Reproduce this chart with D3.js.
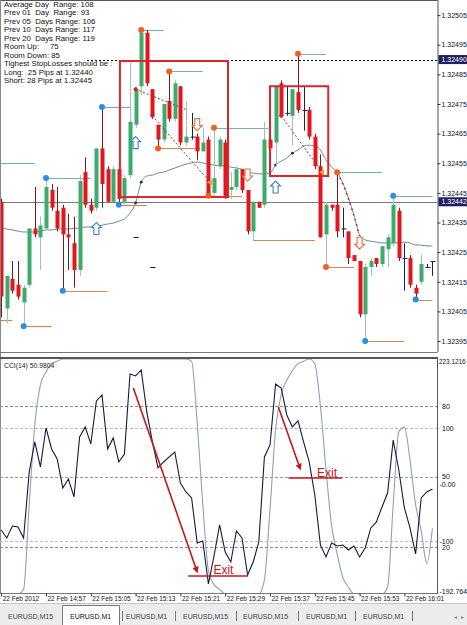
<!DOCTYPE html>
<html>
<head>
<meta charset="utf-8">
<script src="https://cdn.jsdelivr.net/npm/d3@7"></script>
<style>
  body { margin: 0; background: #fff; }
  svg { display: block; font-family: "Liberation Sans", Arial, sans-serif; }
</style>
</head>
<body>
<svg id="chart" width="467" height="625"></svg>
<script>
// EURUSD M1, 22 Feb 2012, one bar per minute starting 14:49
const opens  = [1.32442,1.32406,1.32416,1.32414,1.32408,1.32414,1.32433,1.32430,1.32433,1.32446,1.32439,1.32440,1.32431,1.32428,1.32419,1.32452,1.32441,1.32440,1.32460,1.32453,1.32442,1.32453,1.32442,1.32451,1.32468,1.32481,1.32499,1.32480,1.32468,1.32463,1.32476,1.32470,1.32481,1.32462,1.32464,1.32464,1.32459,1.32463,1.32445,1.32454,1.32462,1.32446,1.32447,1.32453,1.32446,1.32432,1.32442,1.32441,1.32463,1.32462,1.32482,1.32472,1.32471,1.32479,1.32473,1.32473,1.32464,1.32454,1.32431,1.32441,1.32441,1.32433,1.32432,1.32424,1.32422,1.32404,1.32420,1.32423,1.32421,1.32426,1.32428,1.32439,1.32423,1.32423,1.32413,1.32415,1.32420,1.32422];
const highs  = [1.32443,1.32417,1.32422,1.32422,1.32414,1.32433,1.32447,1.32437,1.32450,1.32448,1.32447,1.32441,1.32438,1.32437,1.32451,1.32457,1.32443,1.32460,1.32474,1.32454,1.32454,1.32454,1.32451,1.32489,1.32481,1.32500,1.32500,1.32480,1.32468,1.32475,1.32486,1.32483,1.32481,1.32476,1.32472,1.32465,1.32467,1.32464,1.32467,1.32464,1.32463,1.32452,1.32454,1.32453,1.32446,1.32442,1.32442,1.32469,1.32464,1.32481,1.32483,1.32481,1.32480,1.32492,1.32481,1.32474,1.32465,1.32458,1.32442,1.32441,1.32452,1.32440,1.32432,1.32424,1.32422,1.32421,1.32423,1.32423,1.32427,1.32431,1.32444,1.32440,1.32428,1.32424,1.32414,1.32424,1.32421,1.32422];
const lows   = [1.32403,1.32401,1.32411,1.32409,1.32400,1.32413,1.32430,1.32419,1.32433,1.32439,1.32432,1.32412,1.32419,1.32413,1.32417,1.32440,1.32438,1.32439,1.32440,1.32442,1.32442,1.32441,1.32441,1.32450,1.32467,1.32478,1.32481,1.32470,1.32460,1.32462,1.32469,1.32469,1.32461,1.32461,1.32463,1.32456,1.32459,1.32444,1.32444,1.32453,1.32443,1.32443,1.32446,1.32445,1.32431,1.32429,1.32440,1.32440,1.32460,1.32454,1.32471,1.32471,1.32461,1.32472,1.32466,1.32463,1.32453,1.32430,1.32420,1.32439,1.32430,1.32430,1.32421,1.32422,1.32403,1.32395,1.32417,1.32420,1.32420,1.32420,1.32427,1.32422,1.32412,1.32413,1.32409,1.32414,1.32420,1.32417];
const closes = [1.32410,1.32417,1.32412,1.32410,1.32413,1.32433,1.32431,1.32434,1.32447,1.32440,1.32433,1.32431,1.32430,1.32419,1.32449,1.32441,1.32439,1.32460,1.32448,1.32442,1.32453,1.32443,1.32450,1.32469,1.32480,1.32499,1.32482,1.32471,1.32463,1.32475,1.32470,1.32482,1.32462,1.32464,1.32464,1.32459,1.32462,1.32444,1.32450,1.32463,1.32444,1.32447,1.32453,1.32446,1.32432,1.32442,1.32440,1.32463,1.32460,1.32481,1.32471,1.32472,1.32480,1.32473,1.32473,1.32464,1.32454,1.32430,1.32441,1.32440,1.32432,1.32433,1.32423,1.32422,1.32404,1.32420,1.32422,1.32421,1.32427,1.32430,1.32441,1.32423,1.32423,1.32414,1.32411,1.32421,1.32420,1.32422];
const movingAvg = [1.324331,1.324328,1.324325,1.324321,1.324318,1.324318,1.324318,1.324321,1.324325,1.324325,1.324328,1.324328,1.324328,1.324331,1.324331,1.324335,1.324335,1.324338,1.324341,1.324345,1.324348,1.324355,1.324362,1.324382,1.324416,1.324486,1.324507,1.324510,1.324517,1.324520,1.324527,1.324534,1.324541,1.324547,1.324551,1.324554,1.324551,1.324547,1.324544,1.324541,1.324541,1.324537,1.324534,1.324530,1.324520,1.324517,1.324514,1.324514,1.324517,1.324544,1.324557,1.324568,1.324584,1.324595,1.324608,1.324611,1.324608,1.324595,1.324561,1.324537,1.324520,1.324483,1.324433,1.324375,1.324308,1.324291,1.324287,1.324284,1.324281,1.324281,1.324281,1.324281,1.324284,1.324281,1.324274,1.324274,1.324271,1.324271];
const maDots = [24, 25, 49, 52];

const cci = [-80.4,-94.5,-73.3,-75.0,-94.5,22.3,75.4,31.2,100.2,63.0,45.3,-6.0,9.9,-21.9,84.3,102.0,71.9,148.0,158.6,63.0,82.5,40.0,54.2,195.8,192.2,202.8,128.5,75.4,29.4,40.0,48.9,57.7,2.8,-13.1,-23.7,-103.4,-99.8,-175.9,-126.4,-71.5,-119.3,-137.0,-82.1,-94.5,-160.0,-137.0,-101.6,48.9,70.1,178.1,171.0,123.2,102.0,112.6,75.4,40.0,-18.4,-106.9,-128.1,-103.4,-108.7,-106.9,-115.8,-108.7,-128.1,-112.2,-76.8,-66.2,-39.6,-14.9,78.9,25.8,-41.4,-76.8,-122.8,-23.7,-13.1,-7.8];
const stoch = [0,0,0,0,2,38,72,89,94.5,98,99,100,100,100,100,100,100,100,100,100,100,100,100,100,100,100,100,100,100,100,100,100,100,100,99,73,38,10,4,2,0,0,0,0,0,0,0,6,36,70,85,91,95,98,99,100,98,80,53,29,17,7,3,0,0,0,0,0,0,3,38,69,71,57,38,27,13,28];

const priceTicks = [1.32395,1.32405,1.32415,1.32425,1.32435,1.32445,1.32455,1.32465,1.32475,1.32485,1.32495,1.32505];
const markedPrices = [1.32490, 1.32442];
const tickBars = [0, 8, 16, 24, 32, 40, 48, 56, 64, 72];
const tickLabels = ['22 Feb 2012','22 Feb 14:57','22 Feb 15:05','22 Feb 15:13','22 Feb 15:21','22 Feb 15:29','22 Feb 15:37','22 Feb 15:45','22 Feb 15:53','22 Feb 16:01'];

const infoLines = ['Average Day  Range: 108','Prev 01  Day  Range: 93','Prev 05  Days Range: 106','Prev 10  Days Range: 117','Prev 20  Days Range: 119','Room Up:     75','Room Down: 85','Tighest StopLosses should be :','Long:  25 Pips at 1.32440','Short: 28 Pips at 1.32445'];

// swing levels: start bar, end bar, price, side, dot colour
const levels = [
  {from: -0.3, to: 6, price: 1.32455, side: 'hi', dot: null},
  {from: -0.3, to: 2, price: 1.32402, side: 'lo', dot: null},
  {from: 4, to: 9, price: 1.32400, side: 'lo', dot: 'blue'},
  {from: 8, to: 16, price: 1.32450, side: 'hi', dot: 'blue'},
  {from: 11, to: 19, price: 1.32412, side: 'lo', dot: 'blue'},
  {from: 18, to: 23, price: 1.32474, side: 'hi', dot: 'blue'},
  {from: 21, to: 26, price: 1.32441, side: 'lo', dot: 'blue'},
  {from: 25, to: 29, price: 1.32500, side: 'hi', dot: 'orange'},
  {from: 28, to: 35.5, price: 1.32460, side: 'lo', dot: 'orange'},
  {from: 30, to: 36, price: 1.32486, side: 'hi', dot: 'orange'},
  {from: 37, to: 43, price: 1.32444, side: 'lo', dot: 'orange'},
  {from: 38, to: 47.7, price: 1.32467, side: 'hi', dot: 'orange'},
  {from: 45, to: 56, price: 1.32429, side: 'lo', dot: null},
  {from: 53, to: 58, price: 1.32492, side: 'hi', dot: 'orange'},
  {from: 58, to: 63, price: 1.32420, side: 'lo', dot: 'orange'},
  {from: 60, to: 68, price: 1.32452, side: 'hi', dot: 'orange'},
  {from: 65, to: 72, price: 1.32395, side: 'lo', dot: 'blue'},
  {from: 70, to: 77, price: 1.32444, side: 'hi', dot: 'blue'},
  {from: 74, to: 77, price: 1.32409, side: 'lo', dot: 'blue'}
];

const signalArrows = [
  {bar: 17, price: 1.32435, dir: 'up'},
  {bar: 24, price: 1.32464, dir: 'up'},
  {bar: 49, price: 1.32449, dir: 'up'},
  {bar: 35, price: 1.32466, dir: 'down'},
  {bar: 44, price: 1.32449, dir: 'down'},
  {bar: 64, price: 1.32426, dir: 'down'}
];

const boxes = [
  {from: 21.2, to: 40.5, top: 1.324895, bottom: 1.324436},
  {from: 48, to: 58.4, top: 1.32481, bottom: 1.324507}
];

const trendSegments = [
  [{bar: 24, price: 1.32480}, {bar: 33.2, price: 1.32473}],
  [{bar: 27, price: 1.32471}, {bar: 37.3, price: 1.324486}],
  [{bar: 50, price: 1.32471}, {bar: 57.3, price: 1.32452}]
];
const diamonds = [{bar: 24, price: 1.32480}, {bar: 27, price: 1.32471}, {bar: 50, price: 1.32471}];
const triangles = [{bar: 37.3, price: 1.324486}, {bar: 57.3, price: 1.32452}];
const stopMarks = [{bar: 24, price: 1.32430}, {bar: 27, price: 1.32420}];

const cciArrows = [
  {from: 23.6, v0: 171, to: 35, v1: -154.7},
  {from: 49.5, v0: 137.4, to: 53.4, v1: 27.6}
];
const exitNotes = [
  {from: 33.4, to: 44, v: -161.8, textBar: 37.9, textV: -158},
  {from: 51.3, to: 60.9, v: 11.7, textBar: 56.4, textV: 13.5}
];

const cciLevels = [
  {v: 80, scale: 'stoch', label: '80', dash: '3,2', color: '#8a8a8a'},
  {v: 100, scale: 'cci', label: '100', dash: '3,2', color: '#bdbdbd'},
  {v: 50, scale: 'stoch', label: '50', dash: '3,2', color: '#9a9a9a'},
  {v: -100, scale: 'cci', label: '-100', dash: '3,2', color: '#bdbdbd'},
  {v: 20, scale: 'stoch', label: '20', dash: '3,2', color: '#8a8a8a'}
];

const tabs = ['EURUSD,M15','EURUSD,M1','EURUSD,M1','EURUSD,M15','EURUSD,M15','EURUSD,M1','EURUSD,M1'];
const tabX = [8, 70, 126, 183, 243, 306, 363];
const tabSeparators = [122, 175, 236, 298, 355, 412];

// ---------------------------------------------------------------
const svg = d3.select('#chart');
const plotRight = 437.5;
const topBottom = 352;

const x = d3.scaleLinear().domain([0, 77]).range([1.2, 432.4]);
const y = d3.scaleLinear().domain([1.323913, 1.325101]).range([topBottom, 0]);
const cciY = d3.scaleLinear().domain([-192.764, 223.1216]).range([593.5, 358.5]);
const stochY = d3.scaleLinear().domain([0, 100]).range([594, 359]);

svg.append('rect').attr('width', 467).attr('height', 625).attr('fill', '#fff');

const defs = svg.append('defs');
defs.append('clipPath').attr('id', 'clipTop')
  .append('rect').attr('x', 0).attr('y', 0).attr('width', plotRight).attr('height', topBottom);
defs.append('clipPath').attr('id', 'clipCci')
  .append('rect').attr('x', 0).attr('y', 358.5).attr('width', plotRight).attr('height', 235);
const marker = defs.append('marker').attr('id', 'redHead')
  .attr('viewBox', '0 0 10 10').attr('refX', 8).attr('refY', 5)
  .attr('markerWidth', 4).attr('markerHeight', 4).attr('orient', 'auto');
marker.append('path').attr('d', 'M0,0L10,5L0,10z').attr('fill', '#c8161d');

// ---------- top panel ----------
const topG = svg.append('g').attr('clip-path', 'url(#clipTop)');

// reference lines
topG.append('line')
  .attr('x1', 0).attr('x2', plotRight)
  .attr('y1', Math.round(y(markedPrices[1])) + 0.5).attr('y2', Math.round(y(markedPrices[1])) + 0.5)
  .attr('stroke', '#7a7a7a');
topG.append('line')
  .attr('x1', 87).attr('x2', plotRight)
  .attr('y1', Math.round(y(markedPrices[0])) + 0.5).attr('y2', Math.round(y(markedPrices[0])) + 0.5)
  .attr('stroke', '#111').attr('stroke-dasharray', '2,2');

// moving average
topG.append('path')
  .datum(movingAvg)
  .attr('fill', 'none')
  .attr('stroke', '#6e8a9c')
  .attr('stroke-width', 1)
  .attr('d', d3.line().x((d, i) => x(i)).y(d => y(d)).curve(d3.curveMonotoneX));

// red dotted path on the falling average
topG.append('path')
  .datum(movingAvg.slice(60, 65))
  .attr('fill', 'none')
  .attr('stroke', '#b22222')
  .attr('stroke-width', 1.5)
  .attr('stroke-dasharray', '1.5,4')
  .attr('d', d3.line().x((d, i) => x(i + 60)).y(d => y(d) + 1).curve(d3.curveMonotoneX));

topG.selectAll('.ma-dot')
  .data(maDots)
  .enter().append('circle')
  .attr('class', 'ma-dot')
  .attr('cx', d => x(d)).attr('cy', d => y(movingAvg[d]))
  .attr('r', 1.4).attr('fill', '#1d2a66');

// swing levels
topG.selectAll('.level')
  .data(levels)
  .enter().append('line')
  .attr('class', 'level')
  .attr('x1', d => x(d.from)).attr('x2', d => x(d.to))
  .attr('y1', d => Math.round(y(d.price)) + 0.5).attr('y2', d => Math.round(y(d.price)) + 0.5)
  .attr('stroke', d => d.side === 'hi' ? '#7eaac6' : '#d3865a')
  .attr('stroke-width', 1.2);

// candles
const bars = opens.map((o, i) => ({i, o, h: highs[i], l: lows[i], c: closes[i]}));
const candle = topG.selectAll('.candle')
  .data(bars)
  .enter().append('g')
  .attr('class', 'candle');

const kind = d => d.c > d.o ? 'bull' : (d.c < d.o ? 'bear' : 'doji');
const wickColor = {bull: '#9cc6ae', bear: '#7d1a1a', doji: '#22223f'};
const bodyColor = {bull: '#3dab6b', bear: '#e2161c', doji: '#22223f'};

candle.append('line')
  .attr('x1', d => Math.round(x(d.i)) + 0.5).attr('x2', d => Math.round(x(d.i)) + 0.5)
  .attr('y1', d => y(d.h)).attr('y2', d => y(d.l))
  .attr('stroke', d => wickColor[kind(d)])
  .attr('stroke-width', 1);

candle.append('rect')
  .attr('x', d => Math.round(x(d.i)) - 1.5)
  .attr('width', d => kind(d) === 'doji' ? 5 : 4)
  .attr('y', d => y(Math.max(d.o, d.c)))
  .attr('height', d => Math.max(1, Math.abs(y(d.o) - y(d.c))))
  .attr('fill', d => bodyColor[kind(d)]);

// red boxes
topG.selectAll('.box')
  .data(boxes)
  .enter().append('rect')
  .attr('class', 'box')
  .attr('x', d => x(d.from)).attr('y', d => y(d.top))
  .attr('width', d => x(d.to) - x(d.from))
  .attr('height', d => y(d.bottom) - y(d.top))
  .attr('fill', 'none')
  .attr('stroke', '#e0242a')
  .attr('stroke-width', 2);

// dotted trend segments
topG.selectAll('.trend')
  .data(trendSegments)
  .enter().append('path')
  .attr('class', 'trend')
  .attr('fill', 'none')
  .attr('stroke', '#8e3a3a')
  .attr('stroke-width', 1)
  .attr('stroke-dasharray', '2,2')
  .attr('d', d3.line().x(d => x(d.bar)).y(d => y(d.price)));

topG.selectAll('.diamond')
  .data(diamonds)
  .enter().append('path')
  .attr('class', 'diamond')
  .attr('transform', d => `translate(${x(d.bar)},${y(d.price)})`)
  .attr('d', 'M0,-2.5L2.5,0L0,2.5L-2.5,0Z')
  .attr('fill', '#d42020');

topG.selectAll('.tri')
  .data(triangles)
  .enter().append('path')
  .attr('class', 'tri')
  .attr('transform', d => `translate(${x(d.bar)},${y(d.price)})`)
  .attr('d', 'M-3,0L2,-3L2,3Z')
  .attr('fill', '#f0a030');

topG.selectAll('.stop')
  .data(stopMarks)
  .enter().append('line')
  .attr('class', 'stop')
  .attr('x1', d => x(d.bar) - 2).attr('x2', d => x(d.bar) + 3)
  .attr('y1', d => Math.round(y(d.price)) + 0.5).attr('y2', d => Math.round(y(d.price)) + 0.5)
  .attr('stroke', '#111');

// hollow arrows
const upArrow = 'M0,0L5,5L2.5,5L2.5,12L-2.5,12L-2.5,5L-5,5Z';
const downArrow = 'M0,0L5,-5L2.5,-5L2.5,-12L-2.5,-12L-2.5,-5L-5,-5Z';
topG.selectAll('.signal')
  .data(signalArrows)
  .enter().append('path')
  .attr('class', 'signal')
  .attr('transform', d => `translate(${x(d.bar)},${y(d.price)})`)
  .attr('d', d => d.dir === 'up' ? upArrow : downArrow)
  .attr('fill', '#fff')
  .attr('stroke', d => d.dir === 'up' ? '#3f7fcf' : '#e0763a')
  .attr('stroke-width', 1.1);

// swing dots
topG.selectAll('.swing')
  .data(levels.filter(d => d.dot))
  .enter().append('circle')
  .attr('class', 'swing')
  .attr('cx', d => x(d.from)).attr('cy', d => y(d.price))
  .attr('r', 3)
  .attr('fill', d => d.dot === 'blue' ? '#2d8de4' : '#f2601e');

// info text
svg.append('g').selectAll('text')
  .data(infoLines)
  .enter().append('text')
  .attr('x', 4)
  .attr('y', (d, i) => 7 + i * 8.45)
  .attr('font-size', 7.8)
  .attr('fill', '#111')
  .style('white-space', 'pre')
  .text(d => d);

// frame
svg.append('line').attr('x1', 0).attr('x2', plotRight).attr('y1', 0.5).attr('y2', 0.5).attr('stroke', '#555');
svg.append('line').attr('x1', 0.5).attr('x2', 0.5).attr('y1', 0).attr('y2', 594).attr('stroke', '#888');
svg.append('line').attr('x1', 0).attr('x2', plotRight).attr('y1', topBottom + 0.5).attr('y2', topBottom + 0.5).attr('stroke', '#777');

// price axis
const priceAxis = svg.append('g')
  .attr('transform', `translate(${plotRight},0)`)
  .call(d3.axisRight(y).tickValues(priceTicks).tickFormat(d3.format('.5f')).tickSize(3).tickPadding(1));
priceAxis.select('.domain').attr('stroke', '#555').attr('d', `M0.5,0V${topBottom}`);
priceAxis.selectAll('text').attr('font-size', 7).attr('fill', '#111').attr('font-family', 'Liberation Sans, Arial, sans-serif');
priceAxis.selectAll('line').attr('stroke', '#333');

const marks = svg.append('g').selectAll('g')
  .data(markedPrices)
  .enter().append('g')
  .attr('transform', d => `translate(${plotRight + 1},${y(d)})`);
marks.append('rect').attr('x', 0).attr('y', -4.5).attr('width', 30).attr('height', 9).attr('fill', '#1f1f5e');
marks.append('text').attr('x', 3).attr('y', 2.5).attr('font-size', 7).attr('fill', '#fff').text(d3.format('.5f'));

// ---------- CCI panel ----------
const cciG = svg.append('g').attr('clip-path', 'url(#clipCci)');

cciG.selectAll('.grid')
  .data(cciLevels)
  .enter().append('line')
  .attr('class', 'grid')
  .attr('x1', 0).attr('x2', plotRight)
  .attr('y1', d => Math.round((d.scale === 'cci' ? cciY : stochY)(d.v)) + 0.5)
  .attr('y2', d => Math.round((d.scale === 'cci' ? cciY : stochY)(d.v)) + 0.5)
  .attr('stroke', d => d.color)
  .attr('stroke-dasharray', d => d.dash);

cciG.append('path')
  .datum(stoch)
  .attr('fill', 'none')
  .attr('stroke', '#8da2b0')
  .attr('stroke-width', 1.1)
  .attr('d', d3.line().x((d, i) => x(i)).y(d => stochY(d)).curve(d3.curveMonotoneX));

cciG.append('path')
  .datum(cci)
  .attr('fill', 'none')
  .attr('stroke', '#17173f')
  .attr('stroke-width', 1.1)
  .attr('d', d3.line().x((d, i) => x(i)).y(d => cciY(d)));

cciG.selectAll('.cci-arrow')
  .data(cciArrows)
  .enter().append('line')
  .attr('class', 'cci-arrow')
  .attr('x1', d => x(d.from)).attr('y1', d => cciY(d.v0))
  .attr('x2', d => x(d.to)).attr('y2', d => cciY(d.v1))
  .attr('stroke', '#c8161d')
  .attr('stroke-width', 1.6)
  .attr('marker-end', 'url(#redHead)');

cciG.selectAll('.exit-line')
  .data(exitNotes)
  .enter().append('line')
  .attr('class', 'exit-line')
  .attr('x1', d => x(d.from)).attr('x2', d => x(d.to))
  .attr('y1', d => cciY(d.v)).attr('y2', d => cciY(d.v))
  .attr('stroke', '#c8161d')
  .attr('stroke-width', 1.6);

cciG.selectAll('.exit-text')
  .data(exitNotes)
  .enter().append('text')
  .attr('class', 'exit-text')
  .attr('x', d => x(d.textBar)).attr('y', d => cciY(d.textV))
  .attr('font-size', 12)
  .attr('fill', '#c8161d')
  .text('Exit');

svg.append('text').attr('x', 4).attr('y', 368).attr('font-size', 6.8).attr('fill', '#222').text('CCI(14) 50.9804');

// CCI frame and labels
svg.append('rect').attr('x', 0).attr('y', 357).attr('width', plotRight).attr('height', 2).attr('fill', '#55556a');
svg.append('line').attr('x1', 0).attr('x2', plotRight).attr('y1', 593.5).attr('y2', 593.5).attr('stroke', '#777');
svg.append('line').attr('x1', plotRight).attr('x2', plotRight).attr('y1', 357).attr('y2', 594).attr('stroke', '#555');

const cciLabels = [
  {y: cciY(223.1216) + 3, text: '223.1216', size: 6.4, dx: 1.5},
  {y: cciY(0), text: '-0.00', size: 7, dx: 2},
  {y: cciY(-192.764) - 2.5, text: '-192.764', size: 7, dx: 2}
].concat(cciLevels.map(d => ({
  y: (d.scale === 'cci' ? cciY : stochY)(d.v),
  text: d.label,
  size: 7,
  dx: d.label.startsWith('-') ? 2 : 4.5
})));

svg.append('g').selectAll('text')
  .data(cciLabels)
  .enter().append('text')
  .attr('x', d => plotRight + d.dx)
  .attr('y', d => d.y + 2.5)
  .attr('font-size', d => d.size)
  .attr('fill', '#111')
  .text(d => d.text);

// time axis
const timeAxis = svg.append('g')
  .attr('transform', 'translate(0,593.5)')
  .call(d3.axisBottom(x).tickValues(tickBars).tickFormat((d, i) => tickLabels[i]).tickSize(3).tickPadding(1));
timeAxis.select('.domain').remove();
timeAxis.selectAll('line').attr('stroke', '#333');
timeAxis.selectAll('text')
  .attr('text-anchor', 'start')
  .attr('x', 1)
  .attr('dy', '0.55em')
  .attr('font-size', 6.5)
  .attr('fill', '#111')
  .attr('font-family', 'Liberation Sans, Arial, sans-serif');

// ---------- tab strip ----------
svg.append('rect').attr('x', 0).attr('y', 603).attr('width', 467).attr('height', 22).attr('fill', '#ececec');
svg.append('line').attr('x1', 0).attr('x2', 467).attr('y1', 603.5).attr('y2', 603.5).attr('stroke', '#c4c4c4');
svg.append('path').attr('d', 'M62.5,625V605.5H119.5V625').attr('fill', '#fff').attr('stroke', '#7a7a7a');

svg.append('g').selectAll('text')
  .data(tabs)
  .enter().append('text')
  .attr('x', (d, i) => tabX[i])
  .attr('y', 619)
  .attr('font-size', 7)
  .attr('fill', (d, i) => i === 1 ? '#111' : '#444')
  .text(d => d);

svg.append('g').selectAll('line')
  .data(tabSeparators)
  .enter().append('line')
  .attr('x1', d => d + 0.5).attr('x2', d => d + 0.5)
  .attr('y1', 611).attr('y2', 621)
  .attr('stroke', '#777');

svg.append('text').attr('x', 454).attr('y', 619).attr('font-size', 6).attr('fill', '#888').text('◂');
svg.append('text').attr('x', 461).attr('y', 619).attr('font-size', 6).attr('fill', '#888').text('▸');
</script>
</body>
</html>
